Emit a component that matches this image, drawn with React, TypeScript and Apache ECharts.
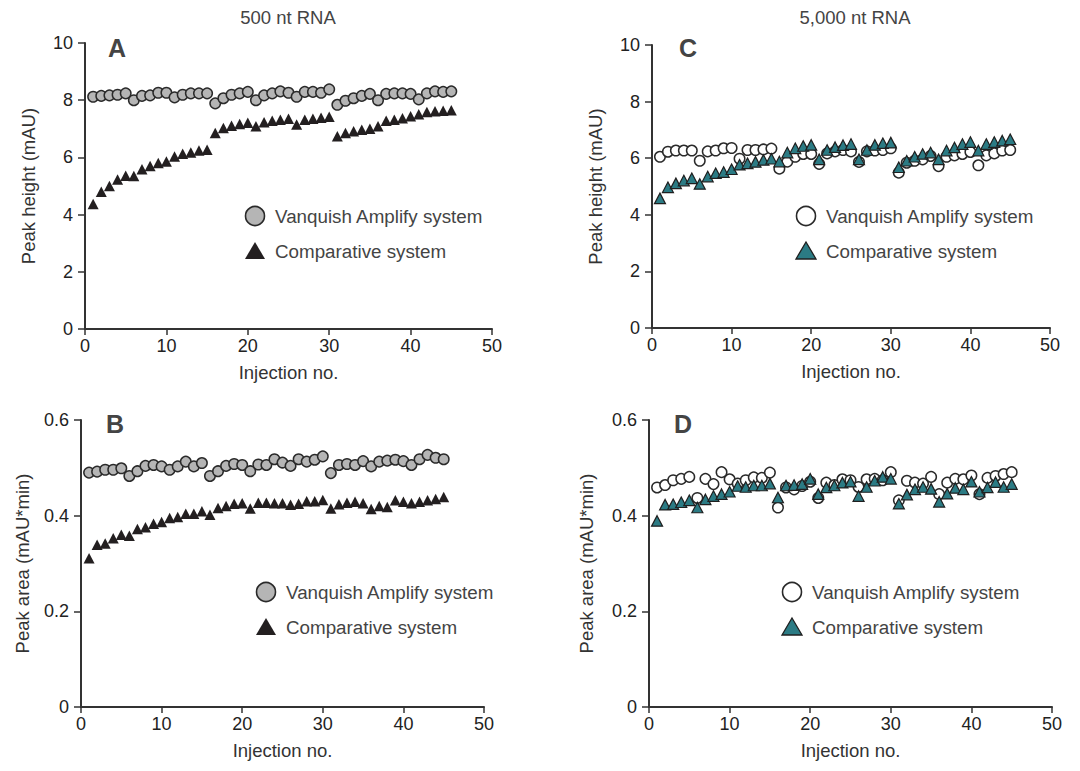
import { useEffect, useRef } from "react";
import * as echarts from "echarts";

const injectionNo = [1, 2, 3, 4, 5, 6, 7, 8, 9, 10, 11, 12, 13, 14, 15, 16, 17, 18, 19, 20, 21, 22, 23, 24, 25, 26, 27, 28, 29, 30, 31, 32, 33, 34, 35, 36, 37, 38, 39, 40, 41, 42, 43, 44, 45];

// Panel A: 500 nt RNA, peak height (mAU)
const aVanquish = [8.12, 8.15, 8.17, 8.19, 8.24, 8.0, 8.15, 8.17, 8.26, 8.26, 8.1, 8.19, 8.24, 8.24, 8.24, 7.89, 8.07, 8.19, 8.24, 8.29, 8.0, 8.17, 8.24, 8.31, 8.26, 8.12, 8.29, 8.29, 8.26, 8.38, 7.84, 7.98, 8.07, 8.15, 8.22, 8.0, 8.22, 8.24, 8.24, 8.22, 8.03, 8.24, 8.31, 8.29, 8.31];
const aComparative = [4.37, 4.8, 5.0, 5.23, 5.36, 5.35, 5.59, 5.7, 5.8, 5.86, 6.03, 6.13, 6.17, 6.24, 6.27, 6.85, 7.03, 7.11, 7.17, 7.21, 7.09, 7.23, 7.28, 7.32, 7.35, 7.15, 7.32, 7.35, 7.39, 7.42, 6.74, 6.85, 6.91, 6.97, 7.0, 7.09, 7.28, 7.32, 7.37, 7.44, 7.51, 7.59, 7.61, 7.63, 7.65];

// Panel B: 500 nt RNA, peak area (mAU*min)
const bVanquish = [0.49, 0.492, 0.496, 0.496, 0.499, 0.483, 0.493, 0.504, 0.506, 0.503, 0.496, 0.503, 0.513, 0.503, 0.51, 0.483, 0.493, 0.504, 0.508, 0.506, 0.493, 0.507, 0.506, 0.518, 0.511, 0.504, 0.518, 0.513, 0.517, 0.524, 0.489, 0.506, 0.508, 0.506, 0.514, 0.503, 0.513, 0.515, 0.517, 0.514, 0.506, 0.518, 0.527, 0.521, 0.518];
const bComparative = [0.311, 0.339, 0.342, 0.353, 0.36, 0.358, 0.372, 0.376, 0.383, 0.387, 0.395, 0.397, 0.404, 0.404, 0.409, 0.402, 0.416, 0.42, 0.425, 0.426, 0.415, 0.427, 0.427, 0.426, 0.426, 0.423, 0.425, 0.43, 0.43, 0.433, 0.415, 0.424, 0.427, 0.429, 0.426, 0.414, 0.42, 0.418, 0.432, 0.429, 0.426, 0.429, 0.432, 0.435, 0.439];

// Panel C: 5,000 nt RNA, peak height (mAU)
const cVanquish = [6.05, 6.23, 6.27, 6.27, 6.27, 5.91, 6.24, 6.27, 6.35, 6.36, 5.98, 6.29, 6.29, 6.31, 6.34, 5.63, 5.88, 6.05, 6.15, 6.15, 5.8, 6.17, 6.24, 6.29, 6.24, 5.87, 6.24, 6.27, 6.29, 6.35, 5.49, 5.84, 5.91, 5.96, 6.08, 5.72, 6.05, 6.1, 6.15, 6.22, 5.75, 6.1, 6.17, 6.27, 6.29];
const cComparative = [4.58, 4.97, 5.11, 5.21, 5.29, 5.09, 5.35, 5.47, 5.51, 5.61, 5.77, 5.82, 5.87, 5.94, 5.98, 5.88, 6.2, 6.35, 6.43, 6.47, 5.96, 6.29, 6.39, 6.46, 6.5, 5.96, 6.29, 6.47, 6.53, 6.55, 5.68, 5.91, 6.05, 6.15, 6.2, 5.96, 6.27, 6.38, 6.5, 6.57, 6.27, 6.5, 6.57, 6.62, 6.67];

// Panel D: 5,000 nt RNA, peak area (mAU*min)
const dVanquish = [0.459, 0.464, 0.474, 0.477, 0.481, 0.437, 0.477, 0.466, 0.491, 0.476, 0.467, 0.474, 0.48, 0.479, 0.49, 0.417, 0.459, 0.455, 0.462, 0.471, 0.437, 0.469, 0.464, 0.476, 0.474, 0.46, 0.476, 0.477, 0.474, 0.491, 0.432, 0.473, 0.469, 0.467, 0.481, 0.445, 0.469, 0.477, 0.476, 0.484, 0.445, 0.479, 0.483, 0.487, 0.491];
const dComparative = [0.389, 0.423, 0.424, 0.428, 0.432, 0.417, 0.434, 0.441, 0.445, 0.45, 0.462, 0.46, 0.463, 0.463, 0.467, 0.438, 0.463, 0.464, 0.466, 0.477, 0.445, 0.459, 0.463, 0.469, 0.471, 0.441, 0.46, 0.473, 0.481, 0.477, 0.425, 0.444, 0.455, 0.46, 0.456, 0.429, 0.446, 0.458, 0.455, 0.471, 0.45, 0.459, 0.47, 0.46, 0.466];

const panelTitles = ["500 nt RNA", "5,000 nt RNA"];
const panelLetters = ["A", "B", "C", "D"];
const legendNames = ["Vanquish Amplify system", "Comparative system"];
const xAxisName = "Injection no.";
const yAxisNames = ["Peak height (mAU)", "Peak area (mAU*min)"];

const FONT = "'Liberation Sans', Arial, Helvetica, sans-serif";
const AXIS = "#333333";
const TEXT = "#444444";
const GRAY = "#b5b5b5";
const BLACK = "#231f20";
const TEAL = "#2b7b84";
const WHITE = "#ffffff";

export default function App() {
  const ref = useRef<HTMLDivElement>(null);

  useEffect(() => {
    if (!ref.current) return;
    const chart = echarts.init(ref.current, null, { renderer: "svg" });

    const grids = [
      { left: 85, top: 43, width: 407, height: 286 },
      { left: 81, top: 420, width: 403, height: 287 },
      { left: 652, top: 45, width: 398, height: 283 },
      { left: 649, top: 420, width: 403, height: 287 },
    ];

    const xAxes = grids.map((_, i) => ({
      type: "value",
      gridIndex: i,
      min: 0,
      max: 50,
      interval: 10,
      name: xAxisName,
      nameLocation: "middle",
      nameGap: 34,
      nameTextStyle: { fontSize: 18.5, color: AXIS, fontFamily: FONT },
      axisLine: { show: true, onZero: false, lineStyle: { color: AXIS, width: 2 } },
      axisTick: { show: true, inside: false, length: 6, lineStyle: { color: AXIS, width: 1.5 } },
      axisLabel: { fontSize: 18, color: "#222", fontFamily: FONT, margin: 8 },
      splitLine: { show: false },
    }));

    const isHeight = [true, false, true, false];
    const yNameGaps = [47, 49, 47, 53];
    const yAxes = grids.map((_, i) => ({
      type: "value",
      gridIndex: i,
      min: 0,
      max: isHeight[i] ? 10 : 0.6,
      interval: isHeight[i] ? 2 : 0.2,
      name: isHeight[i] ? yAxisNames[0] : yAxisNames[1],
      nameLocation: "middle",
      nameGap: yNameGaps[i],
      nameTextStyle: { fontSize: 18.5, color: AXIS, fontFamily: FONT },
      axisLine: { show: true, onZero: false, lineStyle: { color: AXIS, width: 2 } },
      axisTick: { show: true, inside: false, length: 7, lineStyle: { color: AXIS, width: 1.5 } },
      axisLabel: {
        fontSize: 18,
        color: "#222",
        fontFamily: FONT,
        margin: 12,
        formatter: (v: number) => (isHeight[i] ? String(v) : v === 0 ? "0" : v.toFixed(1)),
      },
      splitLine: { show: false },
    }));

    const pairs = (vals: number[]) => vals.map((v, k) => [injectionNo[k], v]);

    const circleSeries = (idx: number, vals: number[], fill: string) => ({
      type: "scatter",
      name: legendNames[0],
      xAxisIndex: idx,
      yAxisIndex: idx,
      data: pairs(vals),
      symbol: "circle",
      symbolSize: 10.5,
      itemStyle: { color: fill, borderColor: "#2a2a2a", borderWidth: 1.5, opacity: 1 },
      z: 2,
    });
    const triSeries = (idx: number, vals: number[], fill: string, border: string) => ({
      type: "scatter",
      name: legendNames[1],
      xAxisIndex: idx,
      yAxisIndex: idx,
      data: pairs(vals),
      symbol: "triangle",
      symbolSize: [11, 10.5],
      itemStyle: { color: fill, borderColor: border, borderWidth: border === "none" ? 0 : 1.2, opacity: 1 },
      z: 3,
    });

    const series = [
      circleSeries(0, aVanquish, GRAY),
      triSeries(0, aComparative, BLACK, "none"),
      circleSeries(1, bVanquish, GRAY),
      triSeries(1, bComparative, BLACK, "none"),
      circleSeries(2, cVanquish, WHITE),
      triSeries(2, cComparative, TEAL, "#1f1f1f"),
      circleSeries(3, dVanquish, WHITE),
      triSeries(3, dComparative, TEAL, "#1f1f1f"),
    ];

    const text = (t: string, x: number, y: number, size: number, weight: string, align: string) => ({
      type: "text",
      x,
      y,
      style: {
        text: t,
        fill: TEXT,
        fontSize: size,
        fontWeight: weight,
        fontFamily: FONT,
        textAlign: align,
        textVerticalAlign: "middle",
      },
    });

    const legendBlock = (cx: number, cy: number, circleFill: string, triFill: string, triStroke: string) => [
      {
        type: "circle",
        shape: { cx, cy, r: 9.5 },
        style: { fill: circleFill, stroke: "#2a2a2a", lineWidth: 1.6 },
      },
      text(legendNames[0], cx + 20, cy, 18.8, "normal", "left"),
      {
        type: "polygon",
        shape: {
          points: [
            [cx, cy + 35 - 9],
            [cx + 10, cy + 35 + 8],
            [cx - 10, cy + 35 + 8],
          ],
        },
        style: { fill: triFill, stroke: triStroke, lineWidth: triStroke === "none" ? 0 : 1.3 },
      },
      text(legendNames[1], cx + 20, cy + 35, 18.8, "normal", "left"),
    ];

    const graphic = [
      text(panelTitles[0], 288, 17, 18.5, "normal", "center"),
      text(panelTitles[1], 855, 17, 18.5, "normal", "center"),
      text(panelLetters[0], 117, 48, 25, "bold", "center"),
      text(panelLetters[1], 115, 424, 25, "bold", "center"),
      text(panelLetters[2], 688, 48, 25, "bold", "center"),
      text(panelLetters[3], 683, 424, 25, "bold", "center"),
      ...legendBlock(255, 216, GRAY, BLACK, "none"),
      ...legendBlock(266, 592, GRAY, BLACK, "none"),
      ...legendBlock(806, 216, WHITE, TEAL, "#1f1f1f"),
      ...legendBlock(792, 592, WHITE, TEAL, "#1f1f1f"),
    ];

    chart.setOption({
      animation: false,
      backgroundColor: "#ffffff",
      textStyle: { fontFamily: FONT },
      grid: grids,
      xAxis: xAxes,
      yAxis: yAxes,
      series,
      graphic,
    });

    return () => chart.dispose();
  }, []);

  return (
    <div
      ref={ref}
      style={{ position: "fixed", left: 0, top: 0, width: 1080, height: 771, background: "#fff" }}
    />
  );
}
